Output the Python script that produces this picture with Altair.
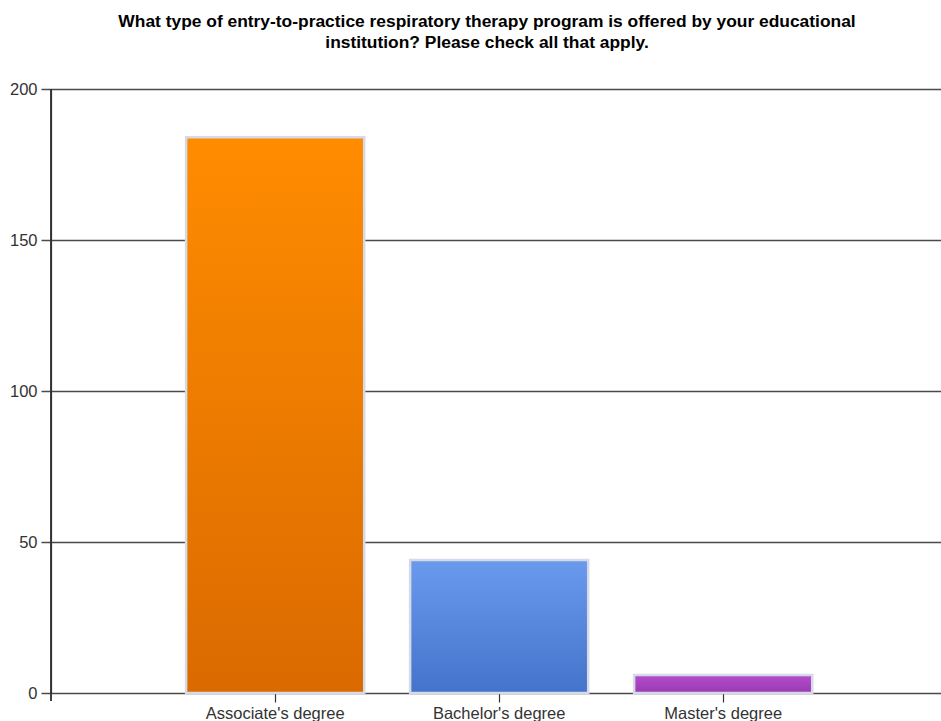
import altair as alt
import pandas as pd

# Survey responses per program type
categories = ["Associate's degree", "Bachelor's degree", "Master's degree"]
counts = [184, 44, 6]
grad_top = ["#FF8C00", "#6A9AEE", "#B54CCB"]
grad_bottom = ["#DA6A00", "#4374CB", "#9A3AB3"]

title_lines = [
    "What type of entry-to-practice respiratory therapy program is offered by your educational",
    "institution? Please check all that apply.",
]
y_ticks = [0, 50, 100, 150, 200]

df = pd.DataFrame({"program": categories, "count": counts})

FONT = "Liberation Sans"
GRID = "#4a4a4a"

x_enc = alt.X(
    "program:N",
    sort=categories,
    scale=alt.Scale(paddingInner=0.205, paddingOuter=0.589, align=0.512),
    axis=alt.Axis(
        title=None,
        domain=False,
        ticks=True,
        tickSize=9,
        tickColor="#333333",
        tickWidth=1.2,
        labelAngle=0,
        labelFont=FONT,
        labelFontSize=16.5,
        labelColor="#333333",
        labelPadding=3,
    ),
)
y_enc = alt.Y(
    "count:Q",
    scale=alt.Scale(domain=[0, 200], nice=False),
    axis=alt.Axis(
        title=None,
        values=y_ticks,
        grid=True,
        gridColor=GRID,
        gridWidth=1.5,
        gridOpacity=1,
        domain=True,
        domainColor="#333333",
        domainWidth=1.2,
        tickSize=10,
        tickColor=GRID,
        tickWidth=1.5,
        labelFont=FONT,
        labelFontSize=16.5,
        labelColor="#333333",
        labelPadding=4,
    ),
)

layers = []
for cat, top, bottom in zip(categories, grad_top, grad_bottom):
    fill = alt.Gradient(
        gradient="linear",
        x1=0, y1=0, x2=0, y2=1,
        stops=[alt.GradientStop(color=top, offset=0),
               alt.GradientStop(color=bottom, offset=1)],
    )
    layers.append(
        alt.Chart(df)
        .transform_filter(alt.datum.program == cat)
        .mark_bar(fill=fill, stroke="#D5DAE6", strokeWidth=2.5)
        .encode(x=x_enc, y=y_enc)
    )

# left axis line runs a little below the baseline
left_edge = alt.Chart(df).mark_rule(color="#333333", strokeWidth=1.2).encode(
    x=alt.value(0), y=alt.value(0), y2=alt.value(612)
)

chart = (
    alt.layer(*layers, left_edge)
    .properties(
        width=890,
        height=604,
        padding={"left": 51, "top": 89, "right": 0, "bottom": 28},
        autosize=alt.AutoSizeParams(type="none"),
        title=alt.TitleParams(
            text=title_lines,
            font=FONT,
            fontSize=17.4,
            fontWeight="bold",
            color="#000000",
            anchor="middle",
            lineHeight=21,
            offset=30,
            dx=-9,
        ),
    )
    .configure_view(stroke=None)
    .configure(background="white")
)

chart.save("out.html", embed_options={"renderer": "svg", "actions": False})
